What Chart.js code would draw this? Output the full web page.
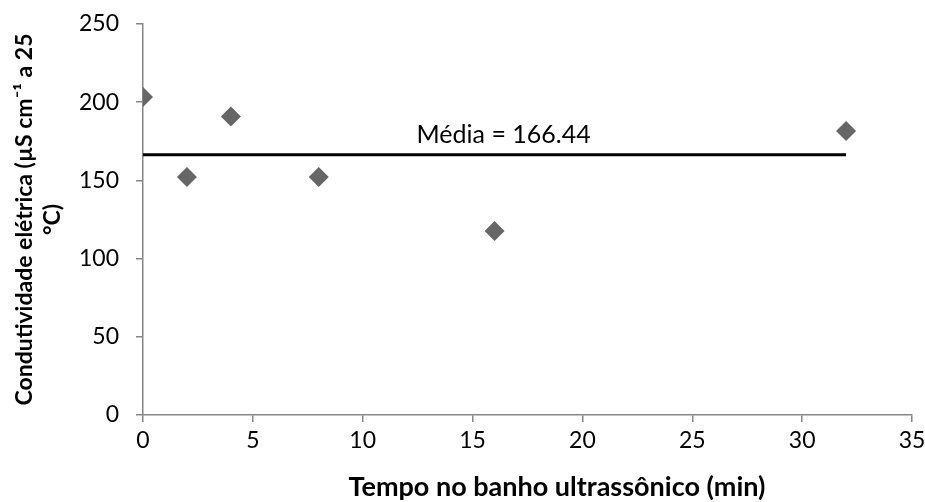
<!DOCTYPE html>
<html lang="pt">
<head>
<meta charset="UTF-8">
<title>Condutividade elétrica</title>
<script src="https://cdn.jsdelivr.net/npm/chart.js"></script>
<style>
  html, body { margin: 0; padding: 0; background: #fff; }
  #wrap { width: 925px; height: 502px; }
</style>
</head>
<body>
<div id="wrap"><canvas id="chart" width="925" height="502"></canvas></div>
<script>
// dados
const tempos = [0, 2, 4, 8, 16, 32];
const condutividade = [203.3, 152.2, 190.8, 152.2, 117.6, 181.6];
const media = 166.44;
const mediaX = [0, 32];
const mediaLabel = 'Média = 166.44';
const tituloX = 'Tempo no banho ultrassônico (min)';

const axisGray = '#868686';

// texto da média e título do eixo x
const textos = {
  id: 'textos',
  afterDatasetsDraw(chart) {
    const ctx = chart.ctx;
    const x = chart.scales.x.getPixelForValue(12.45);
    const y = chart.scales.y.getPixelForValue(media);
    ctx.save();
    ctx.fillStyle = '#000';
    ctx.font = '25px Lato';
    ctx.textAlign = 'left';
    ctx.textBaseline = 'alphabetic';
    ctx.fillText(mediaLabel, x, y - 12);
    ctx.font = 'bold 27px Lato';
    ctx.textAlign = 'center';
    ctx.textBaseline = 'middle';
    ctx.fillText(tituloX, 557, 487);
    ctx.restore();
  }
};

new Chart(document.getElementById('chart'), {
  type: 'scatter',
  data: {
    datasets: [{
      label: 'Condutividade',
      data: tempos.map((t, i) => ({ x: t, y: condutividade[i] })),
      pointStyle: 'rectRot',
      pointRadius: 10,
      pointBackgroundColor: '#666666',
      pointBorderColor: '#666666',
      pointBorderWidth: 0
    }, {
      label: 'Média',
      type: 'line',
      data: mediaX.map(t => ({ x: t, y: media })),
      borderColor: '#000',
      borderWidth: 3,
      pointRadius: 0,
      fill: false
    }]
  },
  options: {
    responsive: false,
    animation: false,
    layout: { padding: { top: 24, right: 13, left: 0, bottom: 0 } },
    plugins: { legend: { display: false }, tooltip: { enabled: false } },
    scales: {
      x: {
        type: 'linear',
        min: 0, max: 35,
        ticks: { stepSize: 5, color: '#000', font: { family: 'Lato', size: 23 }, padding: 5 },
        grid: { drawOnChartArea: false, color: axisGray, tickLength: 7, lineWidth: 1.5 },
        border: { color: axisGray, width: 1.5 },
        afterFit(scale) {
          scale.height = 87;
          scale.paddingLeft = 0;
          scale.paddingRight = 0;
        }
      },
      y: {
        min: 0, max: 250,
        ticks: { stepSize: 50, color: '#000', font: { family: 'Lato', size: 23 }, padding: 17 },
        grid: { drawOnChartArea: false, color: axisGray, tickLength: 7, lineWidth: 1.5 },
        border: { color: axisGray, width: 1.5 },
        title: {
          display: true,
          text: ['Condutividade elétrica (µS cm⁻¹ a 25', '°C)'],
          color: '#000',
          font: { family: 'Lato', size: 23, weight: 'bold', lineHeight: 1.2 },
          padding: { top: 11, bottom: 0 }
        },
        afterFit(scale) {
          scale.width = 143;
          scale.paddingTop = 0;
          scale.paddingBottom = 0;
        }
      }
    }
  },
  plugins: [textos]
});
</script>
</body>
</html>
